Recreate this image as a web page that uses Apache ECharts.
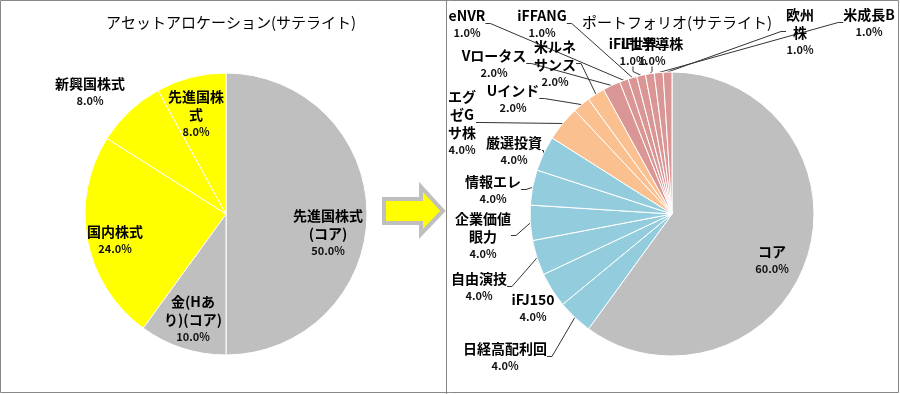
<!DOCTYPE html>
<html><head><meta charset="utf-8">
<script src="https://cdn.jsdelivr.net/npm/echarts@6/dist/echarts.min.js"></script>
<style>html,body{margin:0;padding:0;background:#fff}#c{width:900px;height:394px}</style>
</head><body><div id="c"></div>
<script>
// ---- data ----
const leftTitle = 'アセットアロケーション(サテライト)';
const leftNames = ['先進国株式(コア)', '金(Hあり)(コア)', '国内株式', '新興国株式', '先進国株式'];
const leftLabels = ['先進国株式\n(コア)', '金(Hあ\nり)(コア)', '国内株式', '新興国株式', '先進国株\n式'];
const leftValues = [50, 10, 24, 8, 8];
const leftGroups = ['core', 'core', 'sat', 'sat', 'sat'];

const rightTitle = 'ポートフォリオ(サテライト)';
const rightNames = ['コア', '日経高配利回', 'iFJ150', '自由演技', '企業価値眼力', '情報エレ', '厳選投資',
  'エグゼGサ株', 'Uインド', '米ルネサンス', 'Vロータス', 'eNVR', 'iFFANG', 'iFL世界', 'iFL半導株', '米成長B', '欧州株'];
const rightLabels = ['コア', '日経高配利回', 'iFJ150', '自由演技', '企業価値\n眼力', '情報エレ', '厳選投資',
  'エグ\nゼG\nサ株', 'Uインド', '米ルネ\nサンス', 'Vロータス', 'eNVR', 'iFFANG', 'iFL世界', 'iFL半導株', '米成長B', '欧州\n株'];
const rightValues = [60, 4, 4, 4, 4, 4, 4, 4, 2, 2, 2, 1, 1, 1, 1, 1, 1];
const rightGroups = ['core', 'blue', 'blue', 'blue', 'blue', 'blue', 'blue',
  'peach', 'peach', 'peach', 'pink', 'pink', 'pink', 'pink', 'pink', 'pink', 'pink'];

// ---- styles / layout ----
const colors = {core: '#BFBFBF', sat: '#FFFF00', blue: '#93CDDD', peach: '#FAC090', pink: '#D99694'};
const leftLabelPos = [[328, 233], [193, 319], [115, 240], [90, 92], [196, 114]];
const rightLabelPos = [[772, 260], [505, 357], [533, 308], [479, 287], [483, 236], [493, 190], [514, 151],
  [462, 123], [513, 99], [555, 64], [494, 64], [467, 24], [542, 24], [633, 52], [652, 52], [869, 23], [800, 32]];
const rightNoLine = new Set([0, 2]);

const FONT = '"Noto Sans CJK JP", "Noto Sans", sans-serif';
const rich = {
  n: {fontSize: 14, fontWeight: 'bold', color: '#000', lineHeight: 18, fontFamily: FONT, align: 'center'},
  p: {fontSize: 11, fontWeight: 'bold', color: '#111', lineHeight: 17, fontFamily: FONT, align: 'center'}
};
function fmt(labels) {
  return p => labels[p.dataIndex].split('\n').map(s => '{n|' + s + '}').join('\n') +
    '\n{p|' + p.value.toFixed(1) + '%}';
}

const leftData = leftNames.map((n, i) => ({name: n, value: leftValues[i],
  itemStyle: {color: colors[leftGroups[i]]}}));
const rightData = rightNames.map((n, i) => ({name: n, value: rightValues[i],
  itemStyle: {color: colors[rightGroups[i]]},
  labelLine: {show: !rightNoLine.has(i)}}));

const chart = echarts.init(document.getElementById('c'), null, {renderer: 'canvas'});
chart.setOption({
  animation: false,
  title: [
    {text: leftTitle, left: 226, top: 10, textAlign: 'center',
      textStyle: {fontSize: 15, fontWeight: 'normal', color: '#000', fontFamily: FONT}},
    {text: rightTitle, left: 672, top: 10, textAlign: 'center',
      textStyle: {fontSize: 15, fontWeight: 'normal', color: '#000', fontFamily: FONT}}
  ],
  graphic: [
    {type: 'rect', shape: {x: 0.5, y: 0.5, width: 898, height: 392}, style: {fill: 'none', stroke: '#888', lineWidth: 1}, z: 0},
    {type: 'line', shape: {x1: 446.5, y1: 0, x2: 446.5, y2: 394}, style: {stroke: '#888', lineWidth: 1}, z: 0},
    {type: 'polygon', shape: {points: [[384, 199], [421, 199], [421, 187], [443, 211], [421, 234], [421, 223], [384, 223]]},
      style: {fill: '#FFFF00', stroke: '#BFBFBF', lineWidth: 4, lineJoin: 'miter'}, z: 1}
  ],
  series: [
    {
      type: 'pie', center: [226, 214], radius: 141, startAngle: 90, clockwise: true,
      data: leftData,
      itemStyle: {borderColor: '#fff', borderWidth: 1},
      label: {show: true, position: 'inside', formatter: fmt(leftLabels), rich: rich, align: 'center'},
      labelLine: {show: false},
      labelLayout: p => ({x: leftLabelPos[p.dataIndex][0], y: leftLabelPos[p.dataIndex][1], align: 'center', verticalAlign: 'middle'})
    },
    {
      type: 'pie', center: [672, 214], radius: 142, startAngle: 90, clockwise: true,
      data: rightData,
      itemStyle: {borderColor: '#fff', borderWidth: 1},
      label: {show: true, position: 'outside', formatter: fmt(rightLabels), rich: rich, align: 'center'},
      labelLine: {show: true, length: 5, length2: 5, lineStyle: {color: '#333', width: 1}},
      labelLayout: p => ({x: rightLabelPos[p.dataIndex][0], y: rightLabelPos[p.dataIndex][1], align: 'center', verticalAlign: 'middle'})
    }
  ]
});
</script></body></html>
